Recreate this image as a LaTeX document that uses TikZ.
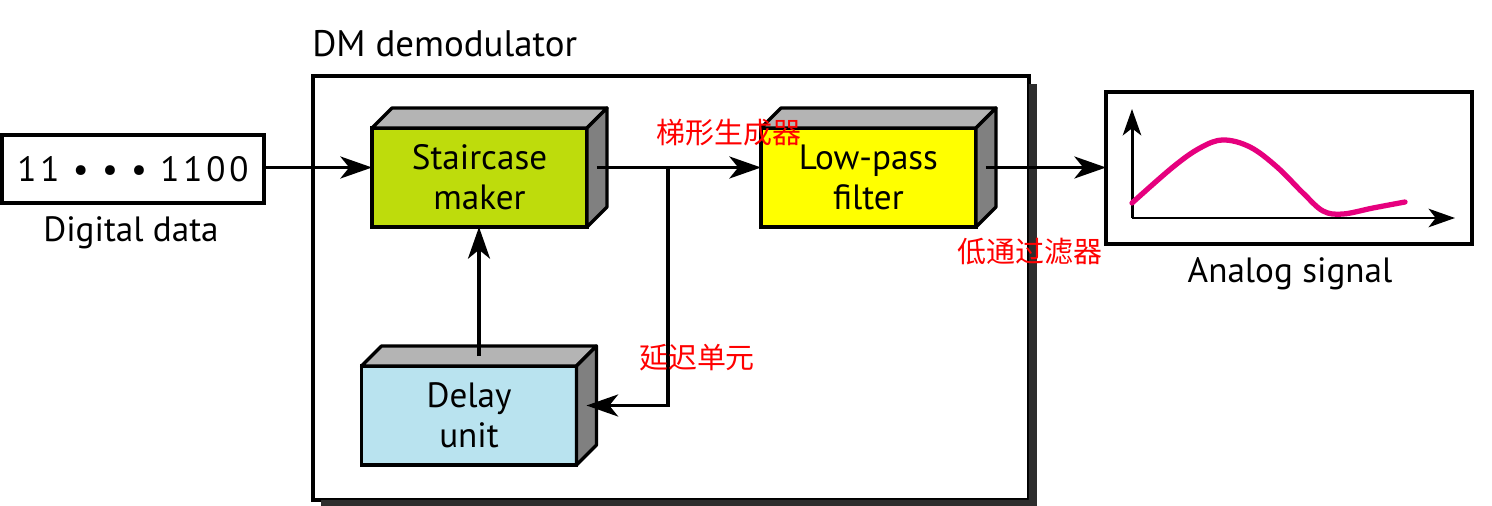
\documentclass[tikz,border=0pt]{standalone}
\usepackage{fontspec}
\setmainfont{PT Sans}
\newfontfamily\cjk{Noto Sans CJK SC}
\usetikzlibrary{arrows.meta,calc}
\definecolor{scgreen}{RGB}{190,220,12}
\definecolor{lpyellow}{RGB}{255,255,0}
\definecolor{dlblue}{RGB}{185,227,239}
\definecolor{topgray}{RGB}{180,180,180}
\definecolor{sidegray}{RGB}{128,128,128}
\definecolor{shadowgray}{RGB}{45,45,45}
\definecolor{sigpink}{RGB}{230,0,126}
\newcommand\cubefaces[1]{%
  \draw[topface] (#1.north west) -- ++(20,-20) -- ($(#1.north east)+(20,-20)$) -- (#1.north east) -- cycle;
  \draw[sideface] (#1.north east) -- ++(20,-20) -- ($(#1.south east)+(20,-20)$) -- (#1.south east) -- cycle;}
\begin{document}
\begin{tikzpicture}[x=0.02cm,y=-0.02cm,
  every node/.style={font=\fontsize{20}{23}\selectfont},
  frontface/.style={draw=black, line width=1.9pt, minimum width=4.3cm, minimum height=1.98cm,
    inner sep=0pt, outer sep=0pt, align=center, text width=4cm},
  topface/.style={draw=black, line width=1.9pt, fill=topgray, line join=round},
  sideface/.style={draw=black, line width=1.9pt, fill=sidegray, line join=round},
  plainbox/.style={draw=black, line width=1.9pt, inner sep=0pt, outer sep=0pt, fill=white},
  conn/.style={line width=2pt, -{Stealth[length=18pt,width=12.5pt,inset=5pt]}},
  cnlabel/.style={text=red, font=\cjk\fontsize{16.5}{18}\selectfont, inner sep=0pt},
]
\useasboundingbox (0,0) rectangle (1492,506);

% outer demodulator box with shadow
\node[plainbox, minimum width=14.32cm, minimum height=8.48cm] (dm) at (671,288) {};
\fill[shadowgray] ($(dm.north east)+(0,8)$) -- ++(8,0) -- ($(dm.south east)+(8,8)$)
  -- ($(dm.south west)+(8,8)$) -- ++(0,-8) -- (dm.south east) -- cycle;
\node[anchor=base west, inner sep=0pt, font=\fontsize{21}{23}\selectfont] (dmtitle) at (312,57) {DM demodulator};

% digital data
\node[plainbox, minimum width=5.24cm, minimum height=1.36cm,
  font=\fontsize{20}{22}\selectfont\addfontfeatures{LetterSpace=11}] (dig) at (133,169) {11 • • • 1100};
\node (diglbl) at (131,233) {Digital data};

% 3D blocks
\node[frontface, fill=scgreen] (sm) at (479.5,177.5) {Staircase\\maker};
\cubefaces{sm}
\node[frontface, fill=lpyellow] (lp) at (868.5,177.5) {Low-pass\\filter};
\cubefaces{lp}
\node[frontface, fill=dlblue] (du) at (469,415.5) {Delay\\unit};
\cubefaces{du}

% analog signal box
\node[plainbox, minimum width=7.32cm, minimum height=3.04cm] (an) at (1289,168) {};
\node (anlbl) at (1290,274) {Analog signal};
\coordinate (org) at (1132,218);
\draw[line width=1.7pt, -{Stealth[length=15pt,width=10.5pt,inset=4pt]}] (org) -- (1132,109);
\draw[line width=1.7pt, -{Stealth[length=15pt,width=10.5pt,inset=4pt]}] (org) -- (1455,218);
\draw[sigpink, line width=3pt, line cap=round] plot[smooth, tension=0.6] coordinates
  {(1132,203) (1173,167) (1200,148) (1223,140) (1250,147) (1277,167) (1303,193) (1323,211) (1343,214) (1373,208) (1405,202)};

% connectors
\coordinate (smout) at ($(sm.east)+(10,-10)$);
\coordinate (smin) at ($(sm.west)+(0,-10)$);
\coordinate (lpin) at ($(lp.west)+(0,-10)$);
\coordinate (lpout) at ($(lp.east)+(10,-10)$);
\coordinate (duin) at ($(du.east)+(10,-10)$);
\coordinate (dutop) at ($(du.north)+(10,-10)$);
\coordinate (junc) at (668,167.5);
\draw[conn] (dig.east |- smin) -- (smin);
\draw[conn] (smout) -- (lpin);
\draw[conn] (junc) |- (duin);
\draw[conn] (dutop) -- (dutop |- sm.south);
\draw[conn] (lpout) -- (lpout -| an.west);

% annotations
\node[cnlabel] (c1) at (729,133) {梯形生成器};
\node[cnlabel] (c2) at (1030,252) {低通过滤器};
\node[cnlabel] (c3) at (697,358) {延迟单元};
\end{tikzpicture}
\end{document}
